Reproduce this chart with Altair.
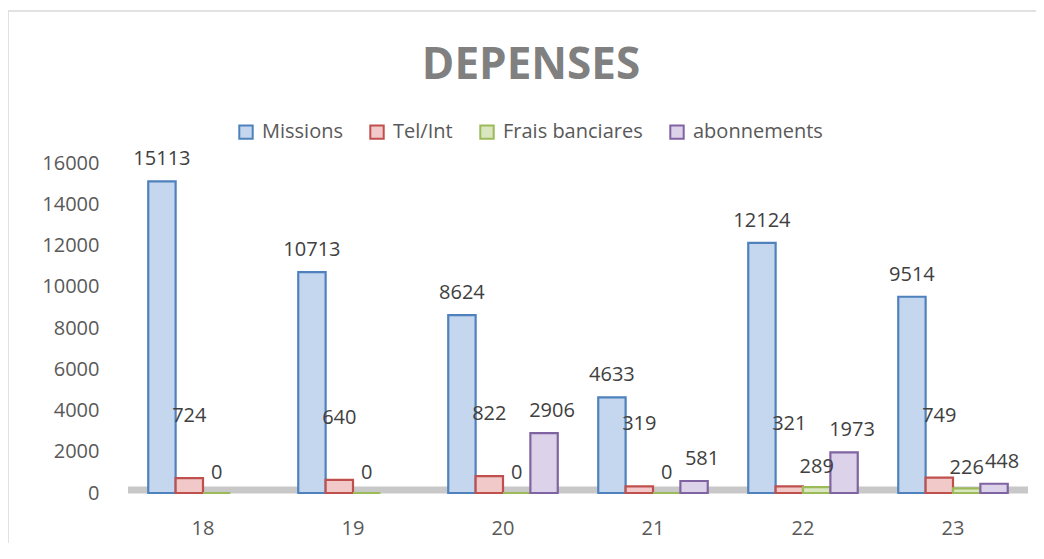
import altair as alt
import pandas as pd

categories = ["18", "19", "20", "21", "22", "23"]
series = ["Missions", "Tel/Int", "Frais banciares", "abonnements"]
missions = [15113, 10713, 8624, 4633, 12124, 9514]
tel_int = [724, 640, 822, 319, 321, 749]
frais = [0, 0, 0, 0, 289, 226]
abonnements = [None, None, 2906, 581, 1973, 448]
y_ticks = [0, 2000, 4000, 6000, 8000, 10000, 12000, 14000, 16000]

fills = ["#C5D6EF", "#F0C9C8", "#D9E6C0", "#DCD2EA"]
strokes = ["#4F81BD", "#C0504D", "#9BBB59", "#8064A2"]

rows = []
for s, vals in zip(series, [missions, tel_int, frais, abonnements]):
    for c, v in zip(categories, vals):
        rows.append({"cat": c, "series": s, "value": v})
df = pd.DataFrame(rows)

FONT = "Open Sans"

x_enc = alt.X(
    "cat:N", sort=categories,
    scale=alt.Scale(paddingInner=0.27, paddingOuter=0.135),
    axis=alt.Axis(title=None, labelAngle=0, domain=False, ticks=False,
                  labelFontSize=20, labelColor="#595959", labelPadding=25,
                  labelFont=FONT),
)
xoff_enc = alt.XOffset("series:N", sort=series,
                       scale=alt.Scale(domain=series, paddingInner=0))
y_enc = alt.Y(
    "value:Q", scale=alt.Scale(domain=[0, 16000], nice=False),
    axis=alt.Axis(title=None, values=y_ticks, format="d", domain=False,
                  ticks=False, grid=False, labelFontSize=20,
                  labelColor="#595959", labelPadding=29, labelFont=FONT),
)

base = alt.Chart(df).transform_filter("datum.value != null")

floor = alt.Chart(pd.DataFrame({"v": [0]})).mark_rule(
    color="#C8C8C8", strokeWidth=7, yOffset=-3
).encode(y=alt.datum(0))

border = alt.Chart(pd.DataFrame({"v": [0]})).mark_rect(
    fillOpacity=0, stroke="#D9D9D9", strokeWidth=1.5
).encode(x=alt.value(-120), x2=alt.value(1100), y=alt.value(-152), y2=alt.value(700))

bars = base.mark_bar(strokeWidth=2.2).encode(
    x=x_enc,
    xOffset=xoff_enc,
    y=y_enc,
    fill=alt.Fill("series:N", sort=series,
                  scale=alt.Scale(domain=series, range=fills),
                  legend=alt.Legend(title=None)),
    stroke=alt.Stroke("series:N", sort=series,
                      scale=alt.Scale(domain=series, range=strokes),
                      legend=alt.Legend(title=None)),
)


def labels(name, dy, dx=0):
    return base.transform_filter(alt.datum.series == name).mark_text(
        font=FONT, fontSize=20, color="#404040", dy=dy, dx=dx, baseline="middle"
    ).encode(x=x_enc, xOffset=xoff_enc, y=y_enc, text=alt.Text("value:Q", format="d"))


chart = alt.layer(
    border,
    floor,
    bars,
    labels("Missions", -22),
    labels("Tel/Int", -62),
    labels("Frais banciares", -20),
    labels("abonnements", -22, 8),
).properties(
    width=900,
    height=330,
    padding={"left": 120, "top": 155, "right": 8, "bottom": 50},
    autosize=alt.AutoSizeParams(type="none"),
    title=alt.TitleParams("DEPENSES", fontSize=44, fontWeight="bold",
                          color="#808080", font=FONT, anchor="middle",
                          dx=-47, offset=-78),
).configure_view(stroke=None).configure_legend(
    orient="none", legendX=108, legendY=-41, direction="horizontal",
    symbolType="square", symbolSize=180, symbolStrokeWidth=2,
    labelFontSize=20, labelColor="#595959", labelFont=FONT,
    columnPadding=23, labelOffset=6,
)

chart.save("out.html", embed_options={"renderer": "svg", "actions": False})
